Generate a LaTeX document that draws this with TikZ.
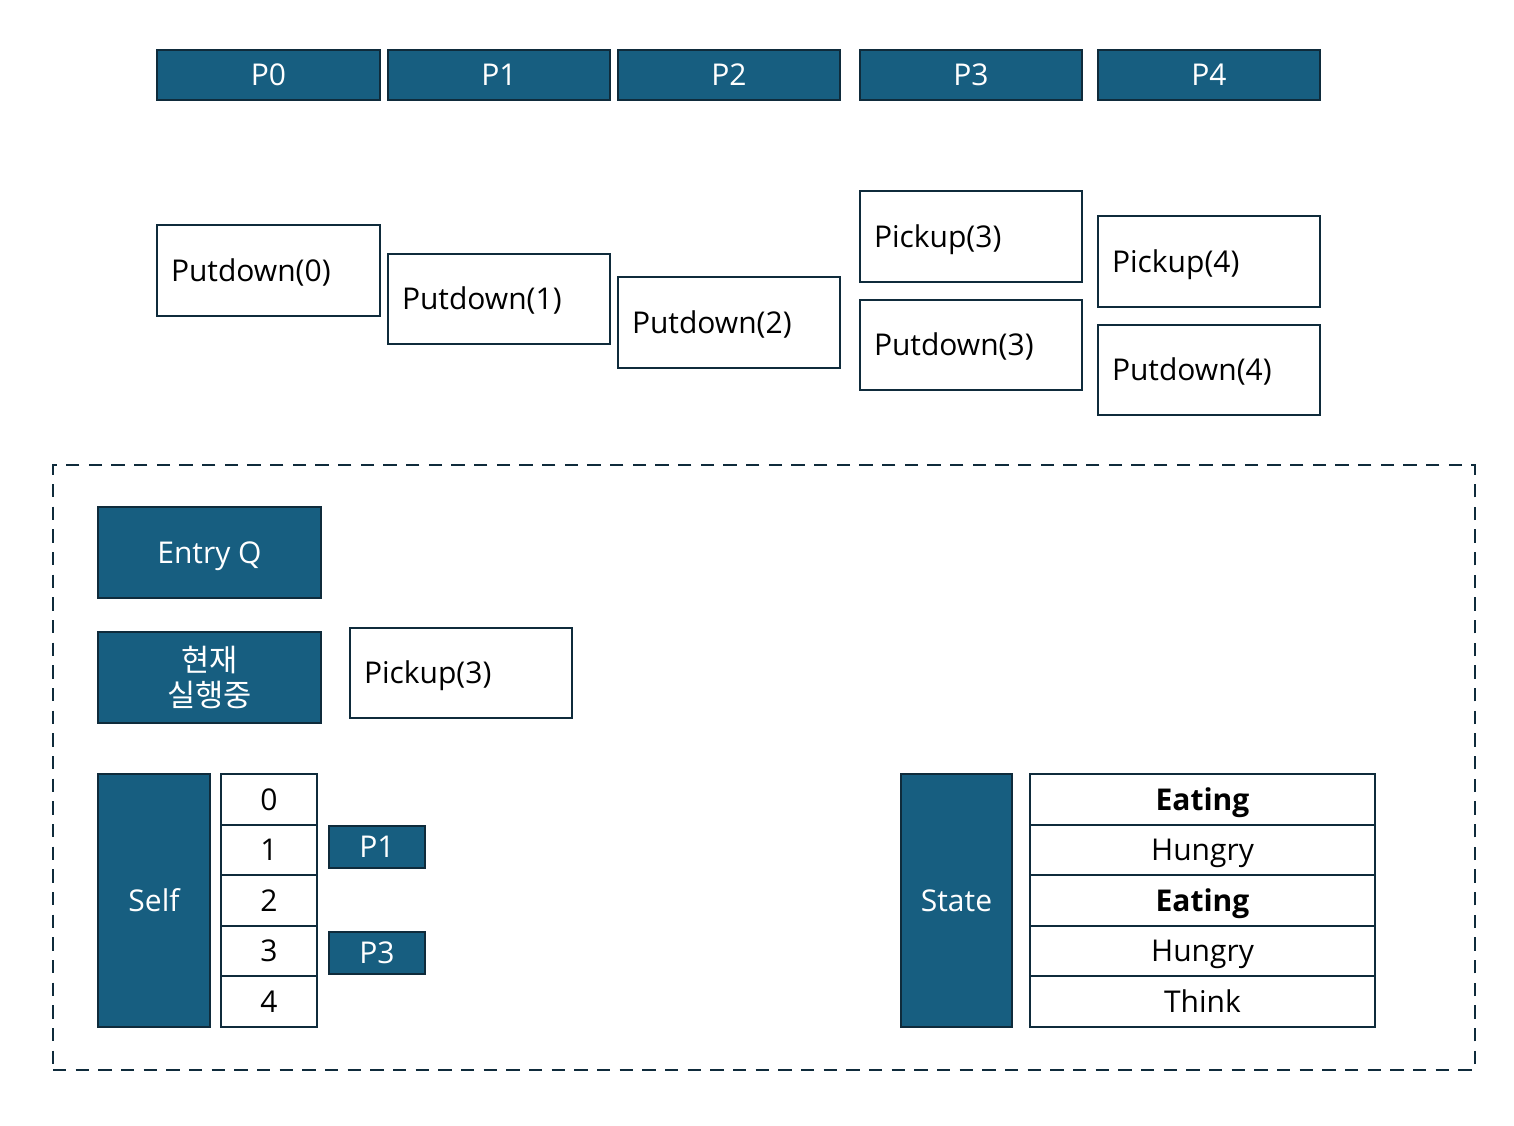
\documentclass[tikz,border=0pt]{standalone}
\usepackage{fontspec}
\setmainfont{Open Sans}
\newfontfamily\kofont{Noto Sans CJK KR}
\definecolor{tealfill}{HTML}{175E80}
\definecolor{edge}{HTML}{0F2B3B}
\begin{document}
\begin{tikzpicture}[x=0.75pt,y=-0.75pt,
  base/.style={draw=edge,line width=2.2pt,inner sep=0pt,outer sep=0pt,font=\fontsize{22.5}{27}\selectfont,text height=17pt,text depth=1pt},
  dark/.style={base,fill=tealfill,text=white},
  light/.style={base,fill=white,text=black},
  leftbox/.style={light,align=left,text width=(#1)*0.75pt-21pt},
  dashbox/.style={draw=edge,line width=2.2pt,dash pattern=on 10pt off 7pt}]
\useasboundingbox (0,0) rectangle (1514,1125);
\newcommand{\bx}[7]{\node[#2,minimum width={(#5-#3)*0.75pt},minimum height={(#6-#4)*0.75pt}] (#1) at ({(#3+#5)/2},{(#4+#6)/2}) {#7};}
% top row
\bx{p0}{dark}{157}{50}{380}{100}{P0}
\bx{p1}{dark}{388}{50}{610}{100}{P1}
\bx{p2}{dark}{618}{50}{840}{100}{P2}
\bx{p3}{dark}{860}{50}{1082}{100}{P3}
\bx{p4}{dark}{1098}{50}{1320}{100}{P4}
% operations
\bx{pd0}{leftbox=223}{157}{225}{380}{316}{Putdown(0)}
\bx{pd1}{leftbox=222}{388}{254}{610}{344}{Putdown(1)}
\bx{pd2}{leftbox=222}{618}{277}{840}{368}{Putdown(2)}
\bx{pk3}{leftbox=222}{860}{191}{1082}{282}{Pickup(3)}
\bx{pd3}{leftbox=222}{860}{300}{1082}{390}{Putdown(3)}
\bx{pk4}{leftbox=222}{1098}{216}{1320}{307}{Pickup(4)}
\bx{pd4}{leftbox=222}{1098}{325}{1320}{415}{Putdown(4)}
% monitor
\bx{mon}{dashbox}{53}{465}{1475}{1070}{}
\bx{entry}{dark}{98}{507}{321}{598}{Entry Q}
\bx{run}{dark,align=center,text height=,text depth=,font=\kofont\fontsize{23}{26}\selectfont}{98}{632}{321}{723}{현재\\실행중}
\bx{cur}{leftbox=222}{350}{628}{572}{718}{Pickup(3)}
% self
\bx{self}{dark}{98}{774}{210}{1027}{Self}
\bx{s0}{light}{221}{774}{317}{825}{0}
\bx{s1}{light}{221}{825}{317}{875}{1}
\bx{s2}{light}{221}{875}{317}{926}{2}
\bx{s3}{light}{221}{926}{317}{976}{3}
\bx{s4}{light}{221}{976}{317}{1027}{4}
\bx{q1}{dark}{329}{826}{425}{868}{P1}
\bx{q3}{dark}{329}{932}{425}{974}{P3}
% state
\bx{state}{dark}{901}{774}{1012}{1027}{State}
\bx{t0}{light}{1030}{774}{1375}{825}{\textbf{Eating}}
\bx{t1}{light}{1030}{825}{1375}{875}{Hungry}
\bx{t2}{light}{1030}{875}{1375}{926}{\textbf{Eating}}
\bx{t3}{light}{1030}{926}{1375}{976}{Hungry}
\bx{t4}{light}{1030}{976}{1375}{1027}{Think}
\end{tikzpicture}
\end{document}
